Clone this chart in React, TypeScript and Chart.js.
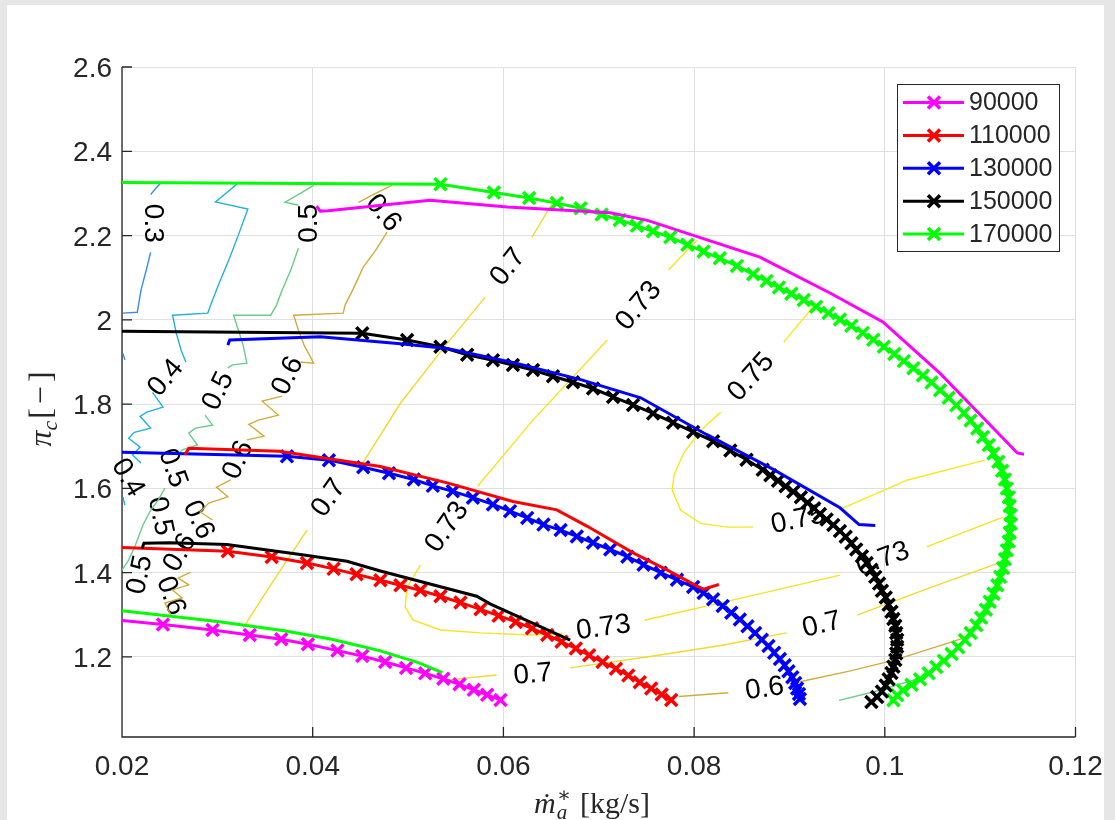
import { useEffect, useRef } from 'react';
import { Chart, registerables } from 'chart.js';

Chart.register(...registerables);

type P = [number, number];

// ---- speed lines -------------------------------------------------------
const SPEED_LABELS = ['90000', '110000', '130000', '150000', '170000'];
const SPEED_COLORS = ['#ff00ff', '#ff0000', '#0000ff', '#000000', '#00ff00'];

// lines drawn with x markers  [mass flow kg/s, pressure ratio]
const MARKED_90K: P[] = [
  [0.018, 1.291], [0.0243, 1.277], [0.0295, 1.264], [0.0334, 1.252], [0.0367, 1.242], [0.0395, 1.23],
  [0.0426, 1.215], [0.0452, 1.202], [0.0476, 1.188], [0.0498, 1.174], [0.0518, 1.161], [0.0537, 1.148],
  [0.0554, 1.135], [0.0569, 1.122], [0.0583, 1.11], [0.0597, 1.098],
];
const MARKED_110K: P[] = [
  [0.018, 1.461], [0.0311, 1.451], [0.0357, 1.437], [0.0394, 1.423], [0.0422, 1.409], [0.0446, 1.396],
  [0.0471, 1.382], [0.0492, 1.37], [0.0513, 1.358], [0.0534, 1.344], [0.0555, 1.329], [0.0576, 1.313],
  [0.0595, 1.298], [0.0613, 1.283], [0.063, 1.268], [0.0646, 1.252], [0.0661, 1.236], [0.0676, 1.22],
  [0.069, 1.204], [0.0704, 1.188], [0.0718, 1.172], [0.0731, 1.156], [0.0743, 1.14], [0.0755, 1.125],
  [0.0766, 1.111], [0.0776, 1.098],
];
const MARKED_130K: P[] = [
  [0.018, 1.687], [0.0373, 1.676], [0.0417, 1.667], [0.0453, 1.65], [0.048, 1.636], [0.0506, 1.621],
  [0.0526, 1.606], [0.0547, 1.593], [0.0568, 1.578], [0.0589, 1.562], [0.0607, 1.546], [0.0625, 1.53],
  [0.0642, 1.514], [0.066, 1.501], [0.0677, 1.486], [0.0694, 1.471], [0.0712, 1.455], [0.073, 1.438],
  [0.0747, 1.419], [0.0765, 1.4], [0.0782, 1.383], [0.0799, 1.366], [0.081, 1.352], [0.082, 1.337],
  [0.083, 1.321], [0.0839, 1.305], [0.0848, 1.289], [0.0856, 1.273], [0.0864, 1.257], [0.0871, 1.241],
  [0.0878, 1.226], [0.0884, 1.21], [0.089, 1.195], [0.0895, 1.18], [0.0899, 1.166], [0.0903, 1.152],
  [0.0906, 1.138], [0.0908, 1.125], [0.091, 1.112], [0.0911, 1.1],
];
const MARKED_150K: P[] = [
  [0.018, 1.973], [0.0452, 1.968], [0.0499, 1.952], [0.0534, 1.936], [0.0562, 1.917], [0.0589, 1.904],
  [0.061, 1.893], [0.0631, 1.881], [0.0652, 1.866], [0.0673, 1.852], [0.0694, 1.837], [0.0715, 1.817],
  [0.0736, 1.798], [0.0757, 1.778], [0.0778, 1.756], [0.0799, 1.734], [0.082, 1.712], [0.0838, 1.69],
  [0.0855, 1.668], [0.0872, 1.644], [0.088, 1.631], [0.0888, 1.618], [0.0896, 1.605], [0.0904, 1.592],
  [0.0912, 1.579], [0.0919, 1.566], [0.0926, 1.553], [0.0932, 1.539], [0.0939, 1.526], [0.0946, 1.513],
  [0.0953, 1.499], [0.0959, 1.485], [0.0965, 1.47], [0.097, 1.455], [0.0976, 1.439], [0.0981, 1.423],
  [0.0986, 1.407], [0.099, 1.39], [0.0994, 1.374], [0.0997, 1.357], [0.1001, 1.341], [0.1004, 1.324],
  [0.1007, 1.307], [0.1009, 1.29], [0.1011, 1.274], [0.1012, 1.257], [0.1013, 1.241], [0.1013, 1.224],
  [0.1012, 1.208], [0.1011, 1.193], [0.1009, 1.177], [0.1007, 1.162], [0.1004, 1.147], [0.1001, 1.132],
  [0.0997, 1.118], [0.0992, 1.105], [0.0986, 1.093],
];
const MARKED_170K: P[] = [
  [0.018, 2.326], [0.0534, 2.322], [0.059, 2.302], [0.0627, 2.289], [0.0656, 2.277], [0.0681, 2.265],
  [0.0703, 2.25], [0.0722, 2.237], [0.074, 2.223], [0.0757, 2.21], [0.0775, 2.196], [0.0793, 2.178],
  [0.081, 2.162], [0.0827, 2.146], [0.0845, 2.128], [0.0862, 2.108], [0.0876, 2.092], [0.0889, 2.077],
  [0.0902, 2.062], [0.0915, 2.047], [0.0928, 2.031], [0.0941, 2.016], [0.0953, 2.001], [0.0965, 1.986],
  [0.0977, 1.969], [0.0988, 1.953], [0.0999, 1.936], [0.101, 1.919], [0.102, 1.902], [0.103, 1.885],
  [0.104, 1.868], [0.1049, 1.851], [0.1058, 1.833], [0.1067, 1.815], [0.1075, 1.797], [0.1083, 1.779],
  [0.109, 1.761], [0.1097, 1.742], [0.1103, 1.722], [0.1109, 1.703], [0.1114, 1.683], [0.1119, 1.663],
  [0.1123, 1.642], [0.1126, 1.621], [0.1128, 1.6], [0.113, 1.579], [0.1131, 1.558], [0.1132, 1.537],
  [0.1132, 1.516], [0.1131, 1.495], [0.113, 1.474], [0.1128, 1.453], [0.1126, 1.432], [0.1124, 1.411],
  [0.1121, 1.39], [0.1118, 1.37], [0.1114, 1.35], [0.111, 1.331], [0.1106, 1.312], [0.1101, 1.293],
  [0.1096, 1.275], [0.109, 1.257], [0.1084, 1.24], [0.1077, 1.223], [0.107, 1.207], [0.1062, 1.191],
  [0.1054, 1.176], [0.1046, 1.161], [0.1037, 1.147], [0.1028, 1.134], [0.1019, 1.121], [0.1013, 1.109],
  [0.1009, 1.097],
];

// lines drawn without markers
const PLAIN_90K: P[] = [
  [0.0404, 2.27], [0.0408, 2.258], [0.0416, 2.259], [0.0523, 2.284], [0.0604, 2.268], [0.0712, 2.254],
  [0.0751, 2.236], [0.0869, 2.149], [0.0943, 2.063], [0.0998, 1.995], [0.1058, 1.873], [0.1139, 1.684],
  [0.1146, 1.681],
];
const PLAIN_110K: P[] = [
  [0.0266, 1.68], [0.027, 1.695], [0.0365, 1.688], [0.0471, 1.652], [0.0541, 1.613], [0.061, 1.569],
  [0.0656, 1.549], [0.0688, 1.51], [0.0736, 1.447], [0.0772, 1.406], [0.0803, 1.368], [0.081, 1.361],
  [0.0826, 1.372],
];
const PLAIN_130K: P[] = [
  [0.0311, 1.94], [0.0313, 1.952], [0.0408, 1.96], [0.0492, 1.943], [0.0541, 1.932], [0.0611, 1.898],
  [0.0681, 1.858], [0.0744, 1.815], [0.0813, 1.728], [0.0883, 1.645], [0.0953, 1.554], [0.0973, 1.514],
  [0.099, 1.512],
];
const PLAIN_150K: P[] = [
  [0.0221, 1.457], [0.0223, 1.47], [0.025, 1.471], [0.031, 1.467], [0.0387, 1.443], [0.0436, 1.427],
  [0.0471, 1.404], [0.0572, 1.344], [0.0586, 1.326], [0.067, 1.24],
];
const PLAIN_170K: P[] = [
  [0.018, 1.315], [0.03, 1.284], [0.037, 1.262], [0.042, 1.242], [0.047, 1.215], [0.051, 1.187],
  [0.0536, 1.163],
];

// ---- efficiency iso-lines (pieces between inline labels) ----------------
const ISO_030: P[][] = [
  [[0.024, 2.323], [0.0235, 2.311], [0.023, 2.297]],
  [[0.023, 2.16], [0.0226, 2.123], [0.022, 2.071], [0.0216, 2.018], [0.0201, 2.016]],
  [[0.0201, 1.92], [0.0203, 1.905]],
];
const ISO_040: P[][] = [
  [[0.0322, 2.325], [0.0311, 2.304], [0.0298, 2.28], [0.0332, 2.263], [0.0322, 2.201], [0.0312, 2.142],
    [0.0301, 2.082], [0.0293, 2.035], [0.029, 2.016], [0.0253, 2.011], [0.0257, 1.968], [0.0262, 1.928],
    [0.0267, 1.9]],
  [[0.0232, 1.828], [0.0243, 1.793], [0.0226, 1.781], [0.0219, 1.771], [0.023, 1.743], [0.0213, 1.733],
    [0.0207, 1.719], [0.0219, 1.698], [0.0211, 1.679], [0.022, 1.66]],
  [[0.0201, 1.58], [0.0203, 1.56]],
];
const ISO_050: P[][] = [
  [[0.0401, 2.319], [0.0387, 2.3], [0.0371, 2.279], [0.0385, 2.272]],
  [[0.0385, 2.17], [0.0377, 2.118], [0.0368, 2.071], [0.0362, 2.035], [0.0356, 2.011], [0.0317, 2.011],
    [0.0322, 1.976], [0.0327, 1.94], [0.0331, 1.897], [0.0316, 1.893], [0.0311, 1.886]],
  [[0.0287, 1.774], [0.0295, 1.75], [0.0277, 1.743], [0.027, 1.731], [0.0279, 1.703], [0.0263, 1.691],
    [0.0257, 1.679]],
  [[0.0245, 1.601], [0.0238, 1.572], [0.023, 1.548], [0.0222, 1.513], [0.0214, 1.465], [0.0207, 1.43],
    [0.02, 1.406]],
  [[0.0952, 1.097], [0.0995, 1.121], [0.104, 1.152]],
];
const ISO_060: P[][] = [
  [[0.0483, 2.319], [0.0466, 2.3], [0.0448, 2.279]],
  [[0.0478, 2.208], [0.0466, 2.165], [0.0453, 2.125], [0.0442, 2.071], [0.0434, 2.035], [0.0432, 2.016],
    [0.038, 2.011], [0.0385, 1.976], [0.0391, 1.94], [0.0401, 1.897], [0.0387, 1.9]],
  [[0.0368, 1.819], [0.0347, 1.807], [0.0364, 1.774], [0.0343, 1.762], [0.0333, 1.752], [0.0349, 1.724],
    [0.0331, 1.715]],
  [[0.0314, 1.62], [0.0299, 1.603], [0.0311, 1.58], [0.0291, 1.565], [0.0282, 1.544], [0.0295, 1.525]],
  [[0.0272, 1.401], [0.0259, 1.387], [0.027, 1.371], [0.0253, 1.359], [0.0263, 1.34], [0.0245, 1.328],
    [0.0251, 1.3]],
  [[0.0784, 1.106], [0.0836, 1.115]],
  [[0.0911, 1.141], [0.0964, 1.167], [0.1011, 1.193], [0.109, 1.25]],
];
const ISO_070: P[][] = [
  [[0.0651, 2.276], [0.063, 2.196]],
  [[0.0581, 2.054], [0.0537, 1.933], [0.0492, 1.802], [0.045, 1.651]],
  [[0.0394, 1.501], [0.0356, 1.371], [0.0327, 1.269]],
  [[0.0539, 1.145], [0.0593, 1.157]],
  [[0.067, 1.174], [0.0754, 1.201], [0.0828, 1.227], [0.0897, 1.257]],
  [[0.0971, 1.299], [0.1047, 1.364], [0.1122, 1.425]],
];
const ISO_073: P[][] = [
  [[0.0803, 2.189], [0.0773, 2.118]],
  [[0.0709, 1.952], [0.0631, 1.762], [0.0573, 1.605]],
  [[0.0513, 1.418], [0.0499, 1.366], [0.0497, 1.319], [0.0505, 1.288], [0.0534, 1.264], [0.0576, 1.257],
    [0.0628, 1.252], [0.0662, 1.255]],
  [[0.0748, 1.287], [0.0848, 1.339], [0.0953, 1.394]],
  [[0.1044, 1.461], [0.1084, 1.497], [0.1124, 1.532]],
];
const ISO_075: P[][] = [
  [[0.0927, 2.037], [0.0894, 1.947]],
  [[0.0828, 1.781], [0.0807, 1.738], [0.0789, 1.684], [0.0779, 1.632], [0.0777, 1.596], [0.0786, 1.548],
    [0.0807, 1.517], [0.0835, 1.508], [0.0862, 1.508]],
  [[0.0956, 1.553], [0.1024, 1.62], [0.1105, 1.667]],
];
const ISO_COLORS = ['#3a8ce8', '#22b2d6', '#68cd88', '#d0ac3c', '#f2da2a', '#f6e322', '#f8e81c'];

// inline contour labels: text, anchor [mass flow, pressure ratio], rotation (deg)
const ISO_LABEL_TEXT = [
  '0.3', '0.5', '0.6', '0.7', '0.73', '0.75', '0.4', '0.5', '0.6', '0.7', '0.73', '0.6', '0.4', '0.5',
  '0.5', '0.6', '0.6', '0.5', '0.6', '0.73', '0.7', '0.6', '0.7', '0.73', '0.75',
];
const ISO_LABEL_AT: P[] = [
  [0.0232, 2.229], [0.0396, 2.229], [0.0474, 2.253], [0.0605, 2.125], [0.0742, 2.033], [0.086, 1.864],
  [0.0246, 1.862], [0.0301, 1.831], [0.0374, 1.867], [0.0417, 1.577], [0.0541, 1.508], [0.0322, 1.667],
  [0.0206, 1.625], [0.0253, 1.648], [0.024, 1.534], [0.028, 1.525], [0.0261, 1.447], [0.0219, 1.395],
  [0.0251, 1.345], [0.0705, 1.269], [0.0631, 1.158], [0.0874, 1.124], [0.0934, 1.276], [0.0998, 1.432],
  [0.0909, 1.525],
];
const ISO_LABEL_ANGLE = [
  90, -90, 50, -52, -50, -48, -50, -64, -64, -55, -55, -66, 60, 70, 78, 65, -60, -78, 70, -8, -5, -8, -14,
  -20, -12,
];

// ---- axes ------------------------------------------------------------------
const X_TICKS = [0.02, 0.04, 0.06, 0.08, 0.1, 0.12];
const Y_TICKS = [1.2, 1.4, 1.6, 1.8, 2, 2.2, 2.4, 2.6];

const SANS = '"Liberation Sans", Arial, Helvetica, sans-serif';
const SERIF = '"Liberation Serif", "DejaVu Serif", "Times New Roman", serif';
const INK = '#262626';
const MARK_R = 8.5;
const MARK_W = 3.5;

const toXY = (pts: P[]) => pts.map(([x, y]) => ({ x, y }));

function drawCross(ctx: CanvasRenderingContext2D, x: number, y: number, r: number) {
  const d = r * Math.SQRT1_2;
  ctx.beginPath();
  ctx.moveTo(x - d, y - d);
  ctx.lineTo(x + d, y + d);
  ctx.moveTo(x - d, y + d);
  ctx.lineTo(x + d, y - d);
  ctx.stroke();
}

const decorations = {
  id: 'mapDecorations',
  beforeDatasetsDraw(chart: any) {
    const { ctx, chartArea: a } = chart;
    const xs = chart.scales.x;
    const ys = chart.scales.y;
    ctx.save();

    // axis lines with inward ticks
    ctx.strokeStyle = INK;
    ctx.lineWidth = 1.3;
    ctx.beginPath();
    ctx.moveTo(a.left, a.top);
    ctx.lineTo(a.left, a.bottom);
    ctx.lineTo(a.right, a.bottom);
    for (const v of Y_TICKS) {
      const py = ys.getPixelForValue(v);
      ctx.moveTo(a.left, py);
      ctx.lineTo(a.left + 10, py);
    }
    for (const v of X_TICKS) {
      const px = xs.getPixelForValue(v);
      ctx.moveTo(px, a.bottom);
      ctx.lineTo(px, a.bottom - 10);
    }
    ctx.stroke();

    // tick labels
    ctx.fillStyle = INK;
    ctx.font = `28px ${SANS}`;
    ctx.textBaseline = 'alphabetic';
    ctx.textAlign = 'center';
    for (const v of X_TICKS) {
      ctx.fillText(String(v), xs.getPixelForValue(v), a.bottom + 38);
    }
    ctx.textAlign = 'right';
    for (const v of Y_TICKS) {
      ctx.fillText(String(v), a.left - 10, ys.getPixelForValue(v) + 10);
    }

    // contour labels
    ctx.fillStyle = '#000000';
    ctx.font = `28px ${SANS}`;
    ctx.textAlign = 'center';
    ctx.textBaseline = 'middle';
    ISO_LABEL_TEXT.forEach((t, i) => {
      const [mx, my] = ISO_LABEL_AT[i];
      ctx.save();
      ctx.translate(xs.getPixelForValue(mx), ys.getPixelForValue(my));
      ctx.rotate((ISO_LABEL_ANGLE[i] * Math.PI) / 180);
      ctx.fillText(t, 0, 0);
      ctx.restore();
    });
    ctx.restore();
  },
  afterDraw(chart: any) {
    const { ctx } = chart;
    ctx.save();

    // legend
    const bx = 897, by = 84, bw = 162, bh = 167;
    ctx.fillStyle = '#ffffff';
    ctx.fillRect(bx, by, bw, bh);
    ctx.strokeStyle = INK;
    ctx.lineWidth = 1;
    ctx.strokeRect(bx + 0.5, by + 0.5, bw, bh);
    ctx.font = `25px ${SANS}`;
    ctx.textAlign = 'left';
    ctx.textBaseline = 'middle';
    SPEED_LABELS.forEach((lab, i) => {
      const cy = by + 18.5 + i * 32.9;
      const c = SPEED_COLORS[i];
      ctx.strokeStyle = c;
      ctx.lineWidth = 3;
      ctx.beginPath();
      ctx.moveTo(bx + 6, cy);
      ctx.lineTo(bx + 67, cy);
      ctx.stroke();
      ctx.lineWidth = MARK_W;
      drawCross(ctx, bx + 37, cy, MARK_R);
      ctx.fillStyle = INK;
      ctx.fillText(lab, bx + 72, cy + 1);
    });

    // x axis title: m-dot star sub a [kg/s]
    ctx.fillStyle = INK;
    ctx.textBaseline = 'alphabetic';
    ctx.textAlign = 'left';
    const base = 813;
    ctx.font = `italic 30px ${SERIF}`;
    const wm = ctx.measureText('ṁ').width;
    ctx.font = `21px ${SERIF}`;
    const ws = ctx.measureText('∗').width;
    ctx.font = `italic 21px ${SERIF}`;
    const wa = ctx.measureText('a').width;
    ctx.font = `30px ${SERIF}`;
    const wb = ctx.measureText('[kg/s]').width;
    const scriptW = Math.max(ws, wa);
    const total = wm + 1 + scriptW + 9 + wb;
    let x0 = 592 - total / 2;
    ctx.font = `italic 30px ${SERIF}`;
    ctx.fillText('ṁ', x0, base);
    x0 += wm + 1;
    ctx.font = `21px ${SERIF}`;
    ctx.fillText('∗', x0, base - 11);
    ctx.font = `italic 21px ${SERIF}`;
    ctx.fillText('a', x0, base + 6);
    x0 += scriptW + 9;
    ctx.font = `30px ${SERIF}`;
    ctx.fillText('[kg/s]', x0, base);

    // y axis title: pi sub c [-]
    ctx.save();
    ctx.translate(43, 409);
    ctx.rotate(-Math.PI / 2);
    ctx.font = `italic 32px ${SERIF}`;
    const wp = ctx.measureText('π').width;
    ctx.font = `italic 22px ${SERIF}`;
    const wc = ctx.measureText('c').width;
    ctx.font = `32px ${SERIF}`;
    const wl = ctx.measureText('[').width;
    const wmin = ctx.measureText('−').width;
    const wr = ctx.measureText(']').width;
    const pad = 4;
    const tot2 = wp + wc + 2 + wl + pad + wmin + pad + wr;
    let y0 = -tot2 / 2;
    const b2 = 8;
    ctx.font = `italic 32px ${SERIF}`;
    ctx.fillText('π', y0, b2);
    y0 += wp;
    ctx.font = `italic 22px ${SERIF}`;
    ctx.fillText('c', y0, b2 + 6);
    y0 += wc + 2;
    ctx.font = `32px ${SERIF}`;
    ctx.fillText('[', y0, b2);
    y0 += wl + pad;
    ctx.fillText('−', y0, b2);
    y0 += wmin + pad;
    ctx.fillText(']', y0, b2);
    ctx.restore();

    ctx.restore();
  },
};

function buildDatasets() {
  const sets: any[] = [];
  const plain = [PLAIN_90K, PLAIN_110K, PLAIN_130K, PLAIN_150K, PLAIN_170K];
  const marked = [MARKED_90K, MARKED_110K, MARKED_130K, MARKED_150K, MARKED_170K];
  // earlier entries are painted on top
  plain.forEach((pts, i) => {
    sets.push({
      data: toXY(pts),
      showLine: true,
      borderColor: SPEED_COLORS[i],
      borderWidth: 3,
      pointRadius: 0,
      pointHoverRadius: 0,
      tension: 0,
    });
  });
  marked.forEach((pts, i) => {
    const c = SPEED_COLORS[i];
    sets.push({
      data: toXY(pts),
      showLine: true,
      borderColor: c,
      backgroundColor: c,
      borderWidth: 3,
      pointStyle: 'crossRot',
      pointRadius: MARK_R,
      pointHoverRadius: MARK_R,
      pointBorderWidth: MARK_W,
      pointBorderColor: c,
      pointBackgroundColor: c,
      tension: 0,
    });
  });
  [ISO_030, ISO_040, ISO_050, ISO_060, ISO_070, ISO_073, ISO_075].forEach((segs, k) => {
    segs.forEach((seg) => {
      sets.push({
        data: toXY(seg),
        showLine: true,
        borderColor: ISO_COLORS[k],
        borderWidth: 1.4,
        pointRadius: 0,
        pointHoverRadius: 0,
        tension: 0,
      });
    });
  });
  return sets;
}

export default function App() {
  const ref = useRef<HTMLCanvasElement>(null);

  useEffect(() => {
    const canvas = ref.current;
    if (!canvas) return;
    const chart = new Chart(canvas, {
      type: 'scatter',
      data: { datasets: buildDatasets() },
      options: {
        responsive: false,
        animation: false,
        devicePixelRatio: 1,
        events: [],
        layout: { padding: { left: 0, right: 39.5, top: 67, bottom: 0 } },
        plugins: { legend: { display: false }, tooltip: { enabled: false } },
        scales: {
          x: {
            type: 'linear',
            min: 0.02,
            max: 0.12,
            afterBuildTicks: (s: any) => {
              s.ticks = X_TICKS.map((v) => ({ value: v }));
            },
            afterFit: (s: any) => {
              s.height = 83;
            },
            ticks: { display: false },
            grid: { color: '#dfdfdf', lineWidth: 1, drawTicks: false },
            border: { display: false },
          },
          y: {
            type: 'linear',
            min: 1.01,
            max: 2.6,
            afterBuildTicks: (s: any) => {
              s.ticks = Y_TICKS.map((v) => ({ value: v }));
            },
            afterFit: (s: any) => {
              s.width = 122;
            },
            ticks: { display: false },
            grid: { color: '#dfdfdf', lineWidth: 1, drawTicks: false },
            border: { display: false },
          },
        },
      } as any,
      plugins: [decorations],
    });
    return () => chart.destroy();
  }, []);

  return (
    <div
      style={{
        position: 'absolute',
        left: 0,
        top: 0,
        width: 1115,
        height: 820,
        background: '#e6e6e6',
        overflow: 'hidden',
      }}
    >
      <div style={{ position: 'absolute', left: 7, top: 5, width: 1097, height: 815, background: '#ffffff' }} />
      <canvas
        ref={ref}
        width={1115}
        height={820}
        style={{ position: 'absolute', left: 0, top: 0, width: 1115, height: 820, display: 'block' }}
      />
    </div>
  );
}
